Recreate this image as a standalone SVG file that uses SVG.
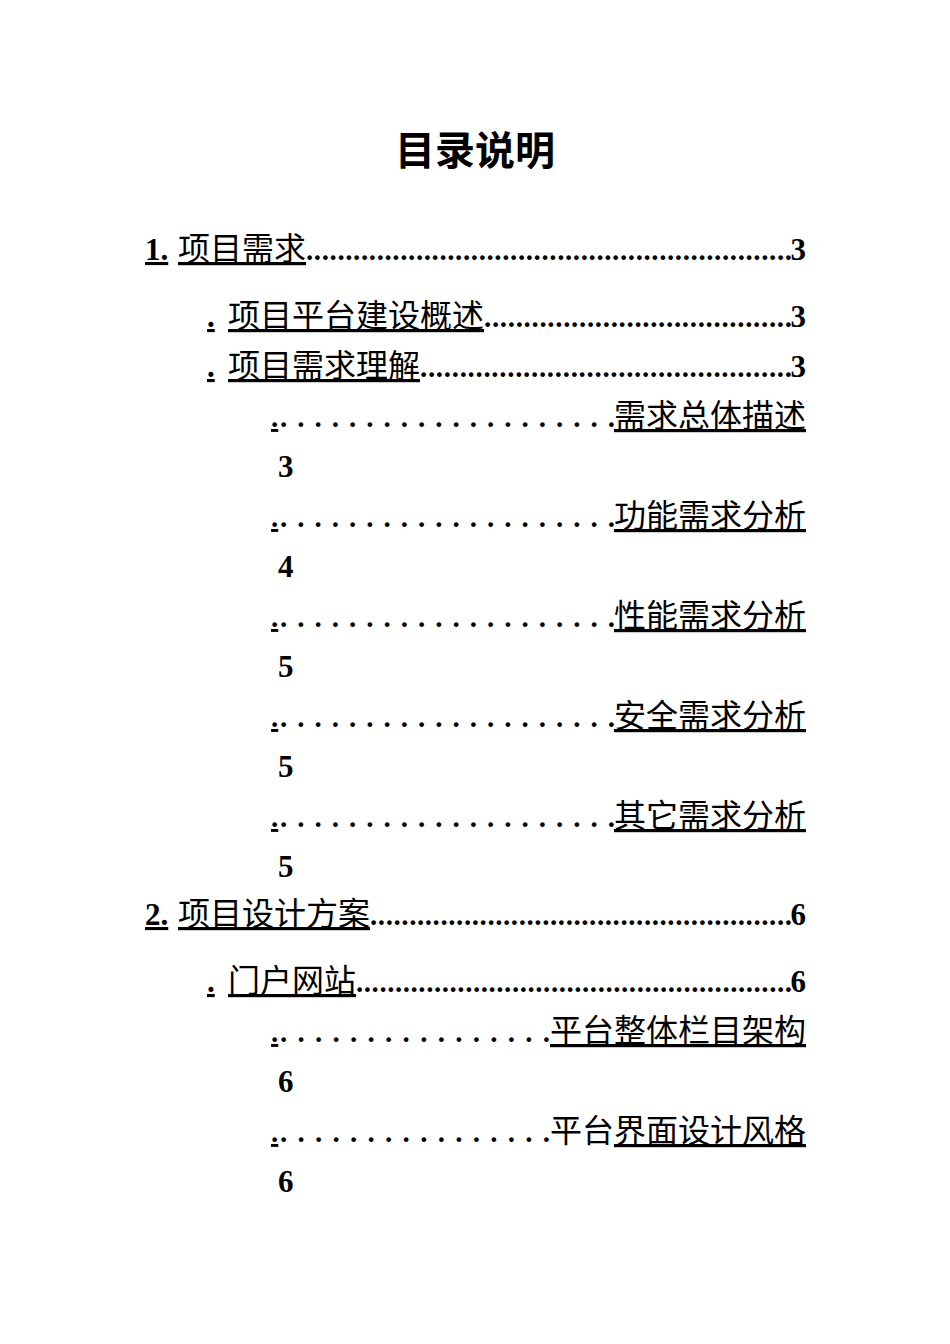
<svg xmlns="http://www.w3.org/2000/svg" width="950" height="1344" viewBox="0 0 950 1344">
<style>
.n{font-family:"Liberation Serif",serif;font-weight:bold;font-size:31px;fill:#000}
.c{font-family:"Noto Sans CJK SC",sans-serif;font-size:32px;fill:#000}
.u{text-decoration:underline}
.d{font-family:"Liberation Serif",serif;font-weight:bold;font-size:29px;fill:#000}
</style>
<rect width="950" height="1344" fill="#fff"/>
<text x="475" y="165" text-anchor="middle" style="font-family:'Noto Sans CJK SC',sans-serif;font-weight:bold;font-size:40px">目录说明</text>
<g id="l1">
<text x="145" y="260" class="n u">1.</text>
<text x="178" y="260" class="c u">项目需求</text>
<text x="306" y="260" class="d" textLength="486" lengthAdjust="spacing">..............................................................</text>
<text x="806" y="260" class="n" text-anchor="end">3</text>
</g>
<g id="l1-1">
<text x="207" y="327" class="n u">.</text>
<text x="228" y="327" class="c u">项目平台建设概述</text>
<text x="484" y="327" class="d" textLength="308" lengthAdjust="spacing">.......................................</text>
<text x="806" y="327" class="n" text-anchor="end">3</text>
</g>
<g id="l1-2">
<text x="207" y="377" class="n u">.</text>
<text x="228" y="377" class="c u">项目需求理解</text>
<text x="420" y="377" class="d" textLength="372" lengthAdjust="spacing">...............................................</text>
<text x="806" y="377" class="n" text-anchor="end">3</text>
</g>
<g id="l1-2-1">
<text x="271" y="427" class="d u">.</text>
<text x="280" y="427" class="d" textLength="335" lengthAdjust="spacing">....................</text>
<text x="806" y="427" class="c u" text-anchor="end">需求总体描述</text>
<text x="278" y="477" class="n">3</text>
</g>
<g id="l1-2-2">
<text x="271" y="527" class="d u">.</text>
<text x="280" y="527" class="d" textLength="335" lengthAdjust="spacing">....................</text>
<text x="806" y="527" class="c u" text-anchor="end">功能需求分析</text>
<text x="278" y="577" class="n">4</text>
</g>
<g id="l1-2-3">
<text x="271" y="627" class="d u">.</text>
<text x="280" y="627" class="d" textLength="335" lengthAdjust="spacing">....................</text>
<text x="806" y="627" class="c u" text-anchor="end">性能需求分析</text>
<text x="278" y="677" class="n">5</text>
</g>
<g id="l1-2-4">
<text x="271" y="727" class="d u">.</text>
<text x="280" y="727" class="d" textLength="335" lengthAdjust="spacing">....................</text>
<text x="806" y="727" class="c u" text-anchor="end">安全需求分析</text>
<text x="278" y="777" class="n">5</text>
</g>
<g id="l1-2-5">
<text x="271" y="827" class="d u">.</text>
<text x="280" y="827" class="d" textLength="335" lengthAdjust="spacing">....................</text>
<text x="806" y="827" class="c u" text-anchor="end">其它需求分析</text>
<text x="278" y="877" class="n">5</text>
</g>
<g id="l2">
<text x="145" y="925" class="n u">2.</text>
<text x="178" y="925" class="c u">项目设计方案</text>
<text x="370" y="925" class="d" textLength="422" lengthAdjust="spacing">......................................................</text>
<text x="806" y="925" class="n" text-anchor="end">6</text>
</g>
<g id="l2-1">
<text x="207" y="992" class="n u">.</text>
<text x="228" y="992" class="c u">门户网站</text>
<text x="356" y="992" class="d" textLength="436" lengthAdjust="spacing">........................................................</text>
<text x="806" y="992" class="n" text-anchor="end">6</text>
</g>
<g id="l2-1-1">
<text x="271" y="1042" class="d u">.</text>
<text x="280" y="1042" class="d" textLength="270" lengthAdjust="spacing">................</text>
<text x="806" y="1042" class="c u" text-anchor="end">平台整体栏目架构</text>
<text x="278" y="1092" class="n">6</text>
</g>
<g id="l2-1-2">
<text x="271" y="1142" class="d u">.</text>
<text x="280" y="1142" class="d" textLength="270" lengthAdjust="spacing">................</text>
<text x="550" y="1142" class="c">平台</text>
<text x="806" y="1142" class="c u" text-anchor="end">界面设计风格</text>
<text x="278" y="1192" class="n">6</text>
</g>
</svg>
